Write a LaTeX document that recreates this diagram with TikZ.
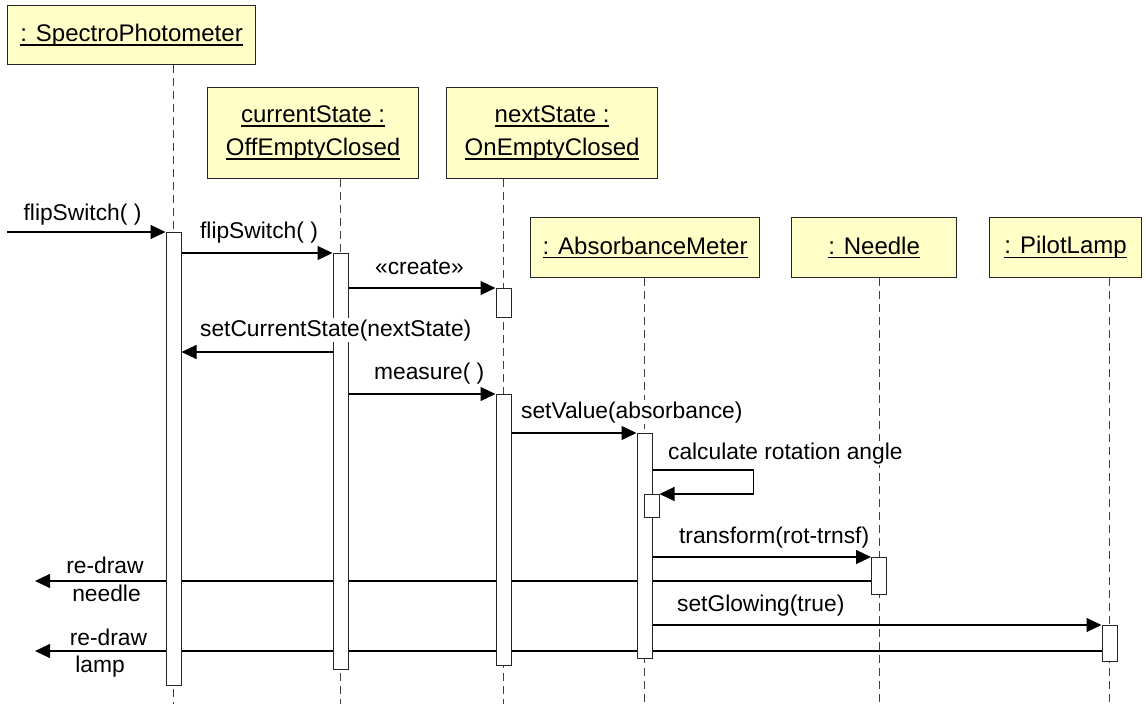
\documentclass[tikz,border=0pt]{standalone}
\usepackage{fontspec}
\setmainfont{Liberation Sans}
\usetikzlibrary{arrows.meta,positioning}
\pgfdeclarelayer{background}
\pgfsetlayers{background,main}
\definecolor{objfill}{RGB}{255,255,200}
\newcommand{\objname}[1]{\setbox0\hbox{#1}\rlap{\rule[-4.2pt]{\wd0}{1.5pt}}\box0}
\tikzset{
  font=\fontsize{22.8}{27}\selectfont
}

\begin{document}
\begin{tikzpicture}[x=1pt,y=-1pt,
  obj/.style={draw=black!85,line width=1.2pt,fill=objfill,inner sep=0pt,anchor=north west,align=center,font=\fontsize{24}{33}\selectfont},
  act/.style={draw=black!85,line width=1pt,fill=white,inner sep=0pt,minimum width=15pt,anchor=north},
  lifeline/.style={draw=black!75,line width=1pt,dash pattern=on 8pt off 5pt},
  msg/.style={line width=1.2pt,-{Triangle[length=15pt,width=14pt]}},
  lbl/.style={fill=white,inner sep=1pt,anchor=base west}]
\useasboundingbox (0,0) rectangle (1146,704);

\node[obj,minimum width=248pt,minimum height=59pt] (spectro) at (7,5) {\objname{: SpectroPhotometer}};
\node[obj,minimum width=211pt,minimum height=91pt] (cur) at (207,87) {\objname{currentState :}\\\objname{OffEmptyClosed}};
\node[obj,minimum width=211pt,minimum height=91pt] (next) at (446,87) {\objname{nextState :}\\\objname{OnEmptyClosed}};
\node[obj,minimum width=229pt,minimum height=60pt] (meter) at (530,217) {\objname{: AbsorbanceMeter}};
\node[obj,minimum width=165pt,minimum height=60pt] (needle) at (791,217) {\objname{: Needle}};
\node[obj,minimum width=152pt,minimum height=60pt] (lamp) at (989,217) {\objname{: PilotLamp}};

\node[act,minimum height=453pt] (sa) at (173.5,232) {};
\node[act,minimum height=416pt] (ca) at (340.5,253) {};
\node[act,minimum height=29pt] (na1) at (503.5,288) {};
\node[act,minimum height=271pt] (na2) at (503.5,394) {};
\node[act,minimum height=225pt] (ma) at (644.5,433) {};
\node[act,minimum height=23pt] (ma2) at (651.5,494) {};
\node[act,minimum height=37pt] (nda) at (879,557) {};
\node[act,minimum height=36pt] (la) at (1109.5,625) {};

\begin{pgfonlayer}{background}
\draw[lifeline] (spectro.south -| sa.north) -- (sa.north |- 0,704);
\draw[lifeline] (cur.south -| ca.north) -- (ca.north |- 0,704);
\draw[lifeline] (next.south -| na1.north) -- (na1.north |- 0,704);
\draw[lifeline] (meter.south -| ma.north) -- (ma.north |- 0,704);
\draw[lifeline] (needle.south -| nda.north) -- (nda.north |- 0,704);
\draw[lifeline] (lamp.south -| la.north) -- (la.north |- 0,704);
\coordinate (outn) at (35,581);
\coordinate (outl) at (35,651);
\draw[msg] (nda.west |- outn) -- (outn);
\draw[msg] (la.west |- outl) -- (outl);
\end{pgfonlayer}

\coordinate (in) at (7,232);
\draw[msg] (in) -- node[lbl,pos=0,xshift=15pt,yshift=12pt] {flipSwitch( )} (sa.north west);
\draw[msg] (sa.east |- ca.north) -- node[lbl,pos=0,xshift=17pt,yshift=15pt] {flipSwitch( )} (ca.north west);
\draw[msg] (ca.east |- na1.north) -- node[lbl,pos=0,xshift=25pt,yshift=14pt] {«create»} (na1.north west);
\draw[msg] (ca.west |- 0,352) -- node[lbl,pos=1,xshift=17pt,yshift=16pt] {setCurrentState(nextState)} (sa.east |- 0,352);
\draw[msg] (ca.east |- na2.north) -- node[lbl,pos=0,xshift=24pt,yshift=15pt] {measure( )} (na2.north west);
\draw[msg] (na2.east |- ma.north) -- node[lbl,pos=0,xshift=8pt,yshift=15pt] {setValue(absorbance)} (ma.north west);
\draw[msg] (ma.east |- 0,470) -- node[lbl,pos=0,xshift=14pt,yshift=11pt] {calculate rotation angle} ++(101,0) |- (ma2.north east);
\draw[msg] (ma.east |- nda.north) -- node[lbl,pos=0,xshift=25pt,yshift=14pt] {transform(rot-trnsf)} (nda.north west);
\draw[msg] (ma.east |- la.north) -- node[lbl,pos=0,xshift=23pt,yshift=14pt] {setGlowing(true)} (la.north west);

\node[anchor=base] (rn1) at (105,573) {re-draw};
\node[anchor=base] (rn2) at (106.5,601) {needle};
\node[anchor=base] (rl1) at (108.5,645) {re-draw};
\node[anchor=base] (rl2) at (100,672) {lamp};
\end{tikzpicture}
\end{document}
